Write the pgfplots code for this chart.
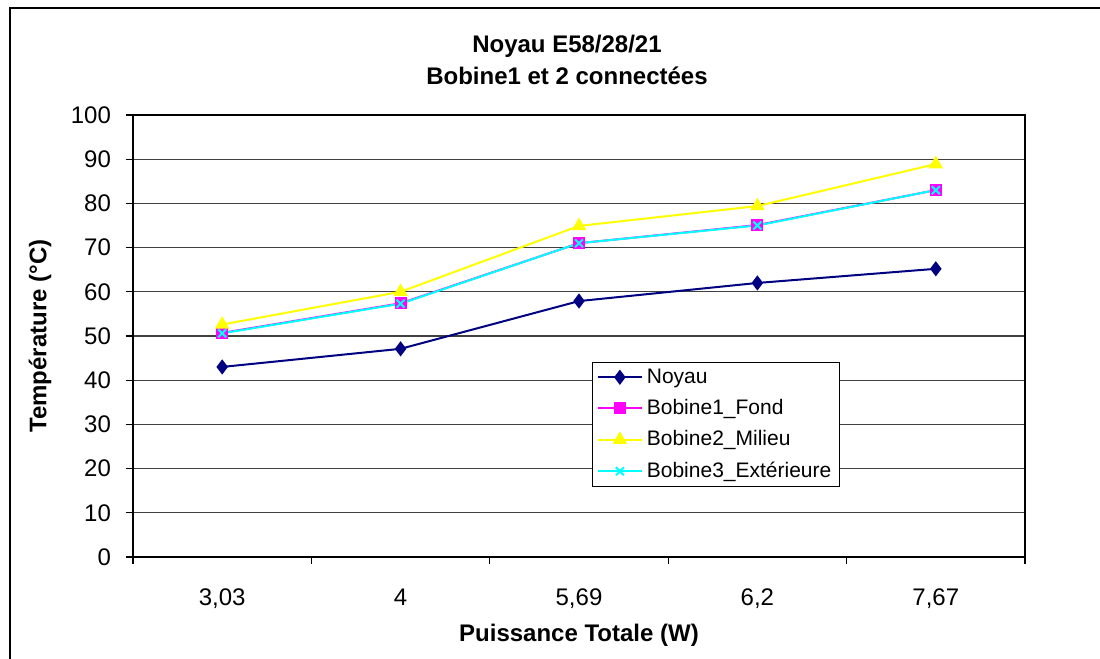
\documentclass[border=0pt]{standalone}
\usepackage{pgfplots}
\pgfplotsset{compat=1.18}
\usepackage{fontspec}
\setmainfont{Liberation Sans}

\definecolor{noyau}{RGB}{0,0,128}
\definecolor{fond}{RGB}{255,0,255}
\definecolor{milieu}{RGB}{255,255,0}
\definecolor{exter}{RGB}{0,255,255}

% 1 px of the reference = 0.5pt
\begin{document}
\begin{tikzpicture}
\begin{axis}[
    at={(66.5pt,51pt)}, anchor=south west,
    scale only axis, width=446pt, height=221pt,
    xmin=-0.5, xmax=4.5, ymin=0, ymax=100,
    ytick={0,10,...,100},
    ymajorgrids,
    grid style={black!75, line width=0.6pt},
    axis line style={black, line width=0.6pt},
    tick style={black, line width=0.6pt},
    tick align=outside, major tick length=3.5pt,
    xtick pos=bottom, ytick pos=left,
    xtick={-0.5,0.5,...,4.5}, xticklabels={},
    extra x ticks={0,1,2,3,4},
    extra x tick labels={{3,03},{4},{5,69},{6,2},{7,67}},
    extra x tick style={major tick length=0pt, xticklabel style={yshift=-12.5pt}},
    yticklabel style={xshift=-4pt},
    /pgf/number format/assume math mode=true,
    ticklabel style={font=\fontsize{12}{14}\selectfont},
    every axis x label/.style={at={(axis description cs:0.5,0)}, yshift=-39pt, anchor=center},
    every axis y label/.style={at={(axis description cs:0,0.5)}, xshift=-46.5pt, rotate=90, anchor=center},
    label style={font=\fontsize{12}{14}\selectfont\bfseries},
    xlabel={Puissance Totale (W)},
    ylabel={Température (°C)},
    title={Noyau E58/28/21\\Bobine1 et 2 connectées},
    title style={at={(axis description cs:0.5,1)}, anchor=south, yshift=5.5pt, xshift=-6pt,
        align=center, font=\fontsize{12}{16}\selectfont\bfseries},
    legend style={at={(axis description cs:0.515,0.441)}, anchor=north west,
        draw=black, line width=0.5pt, font=\fontsize{10.5}{12}\selectfont,
        row sep=2.6pt, inner xsep=2pt, inner ysep=1pt},
    legend cell align=left,
    legend image code/.code={%
        \draw[mark repeat=2, mark phase=2] plot coordinates {(0pt,0pt) (11pt,0pt) (22pt,0pt)};},
]
\addplot[noyau, line width=1pt, mark=diamond*, mark size=3pt, mark options={fill=noyau}]
    coordinates {(0,43.0) (1,47.1) (2,57.9) (3,62.0) (4,65.2)};
\addplot[fond, line width=1pt, mark=square*, mark size=2.5pt, mark options={fill=fond}]
    coordinates {(0,50.7) (1,57.4) (2,71.0) (3,75.1) (4,83.0)};
\addplot[milieu, line width=1pt, mark=triangle*, mark size=3.2pt, mark options={fill=milieu}]
    coordinates {(0,52.6) (1,60.0) (2,74.9) (3,79.4) (4,88.9)};
\addplot[exter, line width=1pt, mark=x, mark size=2.8pt]
    coordinates {(0,50.6) (1,57.3) (2,71.0) (3,75.0) (4,83.0)};
\legend{Noyau, Bobine1\_Fond, Bobine2\_Milieu, Bobine3\_Extérieure}
\end{axis}
\draw[black, line width=1pt] (5pt,-20pt) rectangle (600pt,325.5pt);
\pgfresetboundingbox
\path[use as bounding box] (0,0) rectangle (550pt,329.5pt);
\end{tikzpicture}
\end{document}
